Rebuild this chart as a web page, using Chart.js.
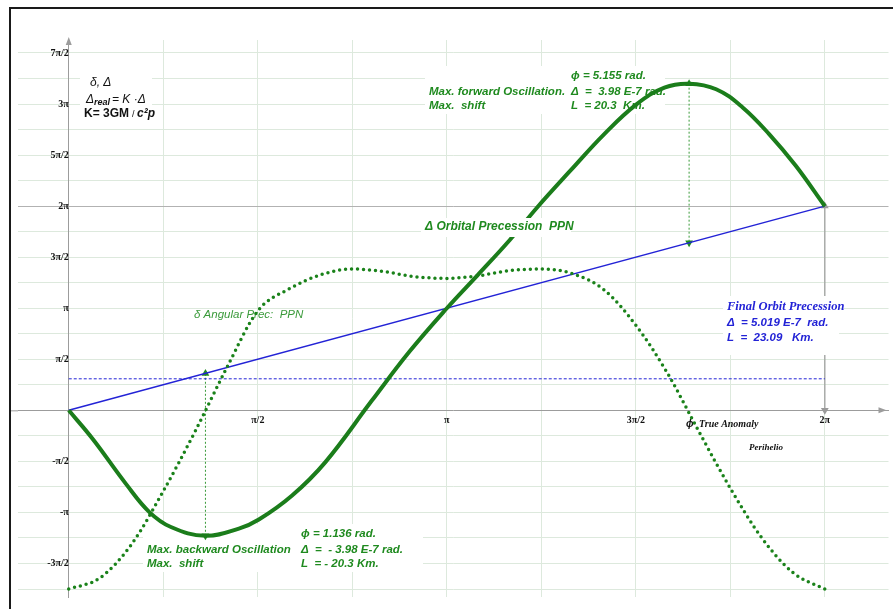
<!DOCTYPE html>
<html>
<head>
<meta charset="utf-8">
<script src="https://cdn.jsdelivr.net/npm/chart.js@4.4.1/dist/chart.umd.min.js"></script>
<style>
  html, body { margin: 0; padding: 0; background: #fff; }
  canvas { display: block; }
</style>
</head>
<body>
<canvas id="orbitChart" width="893" height="609"></canvas>
<script>
const PI = Math.PI;

// Δ orbital precession vs true anomaly (rad)
const phiOrbital = [0, 0.201, 0.477, 0.670, 0.849, 1.136, 1.414, 1.580, 1.856, 2.131, 2.519, 2.830, 3.142,
  3.398, 3.665, 3.894, 4.170, 4.450, 4.720, 4.950, 5.155, 5.380, 5.600, 5.820, 6.040, 6.283];
const orbitalPrec = [0, -0.89, -2.27, -3.13, -3.59, -3.86, -3.64, -3.36, -2.62, -1.60, 0.30, 1.80, 3.14,
  4.16, 5.24, 6.25, 7.38, 8.50, 9.42, 9.93, 10.05, 9.88, 9.32, 8.50, 7.53, 6.28];

// δ angular precession
const phiAngular = [0, 0.262, 0.524, 0.785, 1.047, 1.309, 1.571, 1.833, 2.094, 2.356, 2.618, 2.880, 3.142,
  3.403, 3.665, 3.927, 4.189, 4.451, 4.712, 4.974, 5.236, 5.498, 5.760, 6.021, 6.283];
const angularPrec = [-5.50, -5.15, -4.11, -2.49, -0.67, 1.28, 3.06, 3.74, 4.17, 4.35, 4.27, 4.11, 4.06,
  4.14, 4.30, 4.35, 4.20, 3.70, 2.62, 1.15, -0.65, -2.40, -3.93, -5.00, -5.50];

// straight precession line and final level
const phiRef = [0, 6.283];
const refPrec = [0, 6.283];
const flatLevel = [0.97, 0.97];

// oscillation markers
const backwardPhi = [1.136, 1.136];
const backwardVals = [-3.86, 1.136];
const forwardPhi = [5.155, 5.155];
const forwardVals = [10.05, 5.155];
const finalPhi = [6.283, 6.283];
const finalVals = [0, 6.283];

const xTickValues = [0, PI / 4, PI / 2, 3 * PI / 4, PI, 5 * PI / 4, 3 * PI / 2, 7 * PI / 4, 2 * PI];
const xTickLabels = ['', '', 'π/2', '', 'π', '', '3π/2', '', '2π'];
const yQuarters = [-7, -6, -5, -4, -3, -2, -1, 0, 1, 2, 3, 4, 5, 6, 7, 8, 9, 10, 11, 12, 13, 14];
const yTickLabels = ['', '-3π/2', '', '-π', '', '-π/2', '', '', '', 'π/2', '', 'π', '', '3π/2', '', '2π',
  '', '5π/2', '', '3π', '', '7π/2'];

const pts = (xs, ys) => xs.map((x, i) => ({ x: x, y: ys[i] }));

const GREEN = '#1f8a1f';
const BLUE = '#2323d6';
const tickFont = { family: '"Liberation Serif", "Times New Roman", serif', size: 10, weight: 'bold' };
const sansBI = 'italic bold 11.5px "Liberation Sans", Arial, sans-serif';

function box(ctx, x, y, w, h) {
  ctx.fillStyle = '#fff';
  ctx.fillRect(x, y, w, h);
}
function txt(ctx, s, x, y, font, color) {
  ctx.font = font;
  ctx.fillStyle = color;
  ctx.fillText(s, x, y);
}

const decor = {
  id: 'decor',
  beforeDraw(chart) {
    const ctx = chart.ctx;
    ctx.save();
    ctx.fillStyle = '#fff';
    ctx.fillRect(0, 0, chart.width, chart.height);
    ctx.restore();
  },
  beforeDatasetsDraw(chart) {
    const ctx = chart.ctx;
    ctx.save();
    ctx.textBaseline = 'middle';

    // formula block, top left
    box(ctx, 80, 70, 72, 52);
    txt(ctx, 'δ, Δ', 90, 83, 'italic 12px "Liberation Sans", Arial', '#111');
    txt(ctx, 'Δ', 86, 100, 'italic 12px "Liberation Sans", Arial', '#111');
    txt(ctx, 'real', 94, 103, 'italic bold 9px "Liberation Sans", Arial', '#111');
    txt(ctx, '= K ·Δ', 112, 100, 'italic 12px "Liberation Sans", Arial', '#111');
    txt(ctx, 'K= 3GM', 84, 114, 'bold 12px "Liberation Sans", Arial', '#111');
    txt(ctx, '/', 132, 115, '9px "Liberation Sans", Arial', '#111');
    txt(ctx, 'c²p', 137, 114, 'italic bold 12px "Liberation Sans", Arial', '#111');

    // forward oscillation block
    box(ctx, 425, 66, 240, 48);
    txt(ctx, 'ϕ = 5.155 rad.', 571, 76, sansBI, GREEN);
    txt(ctx, 'Max. forward Oscillation.', 429, 92, sansBI, GREEN);
    txt(ctx, 'Δ  =  3.98 E-7 rad.', 571, 92, sansBI, GREEN);
    txt(ctx, 'Max.  shift', 429, 106, sansBI, GREEN);
    txt(ctx, 'L  = 20.3  Km.', 571, 106, sansBI, GREEN);

    // backward oscillation block
    box(ctx, 143, 524, 280, 48);
    txt(ctx, 'ϕ = 1.136 rad.', 301, 534, sansBI, GREEN);
    txt(ctx, 'Max. backward Oscillation', 147, 550, sansBI, GREEN);
    txt(ctx, 'Δ  =  - 3.98 E-7 rad.', 301, 550, sansBI, GREEN);
    txt(ctx, 'Max.  shift', 147, 564, sansBI, GREEN);
    txt(ctx, 'L  = - 20.3 Km.', 301, 564, sansBI, GREEN);

    txt(ctx, 'δ Angular Prec:  PPN', 194, 315, 'italic 11.5px "Liberation Sans", Arial', '#3a9a3a');

    // anomaly labels
    txt(ctx, 'ϕ', 686, 424, 'italic bold 10px "Liberation Sans", sans-serif', '#111');
    txt(ctx, 'True Anomaly', 699, 424, 'italic bold 10px "Liberation Serif", serif', '#111');
    txt(ctx, 'Perihelio', 749, 448, 'italic bold 9px "Liberation Serif", serif', '#111');
    ctx.restore();
  },
  afterDatasetsDraw(chart) {
    const ctx = chart.ctx;
    const area = chart.chartArea;
    const xs = chart.scales.x;
    const ys = chart.scales.y;
    ctx.save();
    ctx.textBaseline = 'middle';

    box(ctx, 421, 218, 150, 19);
    txt(ctx, 'Δ Orbital Precession  PPN', 425, 227, 'italic bold 12px "Liberation Sans", Arial', GREEN);

    box(ctx, 723, 296, 116, 59);
    txt(ctx, 'Final Orbit Precession', 727, 307, 'italic bold 12.5px "Liberation Serif", serif', BLUE);
    txt(ctx, 'Δ  = 5.019 E-7  rad.', 727, 323, sansBI, BLUE);
    txt(ctx, 'L  =  23.09   Km.', 727, 338, sansBI, BLUE);

    // axis arrow heads
    const x0 = xs.getPixelForValue(0);
    const y0 = ys.getPixelForValue(0);
    ctx.fillStyle = '#9c9c9c';
    ctx.strokeStyle = '#9c9c9c';
    ctx.beginPath();
    ctx.moveTo(x0, area.top - 3);
    ctx.lineTo(x0 - 3, area.top + 5);
    ctx.lineTo(x0 + 3, area.top + 5);
    ctx.closePath();
    ctx.fill();
    ctx.beginPath();
    ctx.moveTo(area.right - 2, y0);
    ctx.lineTo(area.right - 10, y0 - 3);
    ctx.lineTo(area.right - 10, y0 + 3);
    ctx.closePath();
    ctx.fill();
    ctx.lineWidth = 1;
    ctx.beginPath();
    ctx.moveTo(11, y0 + 0.5);
    ctx.lineTo(area.left, y0 + 0.5);
    ctx.stroke();

    // picture frame
    ctx.strokeStyle = '#1a1a1a';
    ctx.lineWidth = 2;
    ctx.beginPath();
    ctx.moveTo(10, chart.height);
    ctx.lineTo(10, 8);
    ctx.lineTo(chart.width, 8);
    ctx.stroke();
    ctx.restore();
  }
};

new Chart(document.getElementById('orbitChart').getContext('2d'), {
  type: 'line',
  data: {
    datasets: [
      {
        label: 'Δ Orbital Precession PPN',
        data: pts(phiOrbital, orbitalPrec),
        borderColor: '#1b7d1b',
        borderWidth: 4,
        pointRadius: 0,
        tension: 0.4
      },
      {
        label: 'δ Angular Prec. PPN',
        data: pts(phiAngular, angularPrec),
        borderColor: '#1a821a',
        borderWidth: 3.5,
        borderDash: [0, 6],
        borderCapStyle: 'round',
        pointRadius: 0,
        cubicInterpolationMode: 'monotone'
      },
      {
        label: 'Precession line',
        data: pts(phiRef, refPrec),
        borderColor: BLUE,
        borderWidth: 1.5,
        pointRadius: 0
      },
      {
        label: 'Level',
        data: pts(phiRef, flatLevel),
        borderColor: BLUE,
        borderWidth: 1,
        borderDash: [3, 2],
        pointRadius: 0
      },
      {
        label: 'backward',
        data: pts(backwardPhi, backwardVals),
        borderColor: '#3a9a3a',
        borderWidth: 1,
        borderDash: [2, 2],
        pointStyle: 'triangle',
        pointRadius: 4.5,
        pointRotation: [180, 0],
        pointBackgroundColor: GREEN,
        pointBorderWidth: 0
      },
      {
        label: 'forward',
        data: pts(forwardPhi, forwardVals),
        borderColor: '#3a9a3a',
        borderWidth: 1,
        borderDash: [2, 2],
        pointStyle: 'triangle',
        pointRadius: 4.5,
        pointRotation: [0, 180],
        pointBackgroundColor: GREEN,
        pointBorderWidth: 0
      },
      {
        label: 'final',
        data: pts(finalPhi, finalVals),
        borderColor: '#9a9a9a',
        borderWidth: 1.2,
        pointStyle: 'triangle',
        pointRadius: 4.5,
        pointRotation: [180, 0],
        pointBackgroundColor: '#9a9a9a',
        pointBorderWidth: 0
      }
    ]
  },
  options: {
    responsive: false,
    animation: false,
    layout: { padding: { left: 18, top: 40, right: 0, bottom: 11 } },
    plugins: {
      legend: { display: false },
      tooltip: { enabled: false }
    },
    scales: {
      x: {
        type: 'linear',
        min: -0.4216,
        max: 6.812,
        position: { y: 0 },
        afterBuildTicks: axis => { axis.ticks = xTickValues.map(v => ({ value: v })); },
        ticks: {
          autoSkip: false,
          maxRotation: 0,
          padding: 4,
          color: '#111',
          font: tickFont,
          callback: (v, i) => xTickLabels[i]
        },
        grid: { color: '#dde9dd', drawTicks: false },
        border: { color: '#9c9c9c' }
      },
      y: {
        type: 'linear',
        min: -5.743,
        max: 11.394,
        position: { x: 0 },
        afterBuildTicks: axis => { axis.ticks = yQuarters.map(k => ({ value: k * PI / 4 })); },
        ticks: {
          autoSkip: false,
          padding: 6,
          color: '#111',
          font: tickFont,
          callback: (v, i) => yTickLabels[i]
        },
        grid: {
          color: c => (c.tick && Math.abs(c.tick.value - 2 * PI) < 1e-6) ? '#b2b2b2' : '#dde9dd',
          drawTicks: false
        },
        border: { color: '#9c9c9c' }
      }
    }
  },
  plugins: [decor]
});
</script>
</body>
</html>
